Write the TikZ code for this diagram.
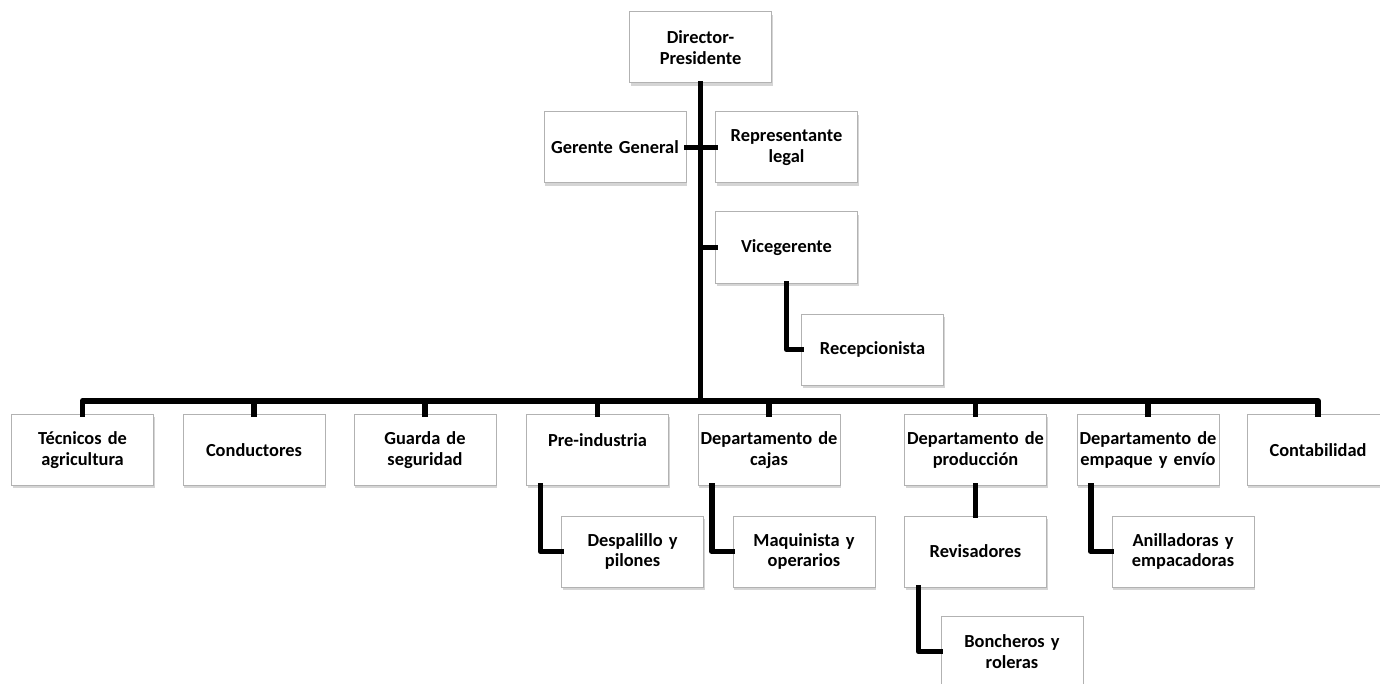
\documentclass[tikz,border=0pt]{standalone}
\usepackage{fontspec}
\setmainfont{Carlito}
\usepackage{tikz}
\usetikzlibrary{shadows}
\tikzset{
    cargo/.style={draw=gray!60, line width=0.5pt, fill=white, minimum width=71pt, minimum height=35.5pt,
        text width=70pt, inner sep=0pt, align=center, font=\fontsize{9.2}{10.3}\selectfont\bfseries,
        drop shadow={shadow xshift=0.6pt, shadow yshift=-1.4pt, fill=gray!55, opacity=0.6}},
    conn/.style={line width=2.9pt, line join=round, line cap=rect}
}

\begin{document}
\begin{tikzpicture}[x=0.5pt, y=-0.5pt]
    \useasboundingbox [fill=white] (0, 0) rectangle (1380, 684);

    % direccion
    \node [cargo] (dir) at (700.5, 47.5) {Director-\\Presidente};
    \node [cargo] (gerente) at (615, 147.5) {Gerente General};
    \node [cargo] (repre) at (786.5, 147.5) {Representante\\legal};
    \node [cargo] (vice) at (786.5, 247.5) {Vicegerente};
    \node [cargo] (recep) at (872.5, 349.5) {Recepcionista};

    % departamentos
    \node [cargo] (tecnicos) at (82.5, 450) {Técnicos de\\agricultura};
    \node [cargo] (conduct) at (254, 450) {Conductores};
    \node [cargo] (guarda) at (425, 450) {Guarda de\\seguridad};
    \node [cargo] (preind) at (597.5, 450) {Pre-industria\\~};
    \node [cargo] (cajas) at (769, 450) {Departamento de\\cajas};
    \node [cargo] (prod) at (975.5, 450) {Departamento de\\producción};
    \node [cargo] (empaque) at (1148, 450) {Departamento de\\empaque y envío};
    \node [cargo] (conta) at (1318, 450) {Contabilidad};

    \node [cargo] (despal) at (632.5, 551.5) {Despalillo y\\pilones};
    \node [cargo] (maquin) at (804, 551.5) {Maquinista y\\operarios};
    \node [cargo] (revis) at (975.5, 551.5) {Revisadores};
    \node [cargo] (anill) at (1183, 551.5) {Anilladoras y\\empacadoras};
    \node [cargo] (bonch) at (1012, 651.5) {Boncheros y\\roleras};

    % lineas
    \coordinate (bus) at (82.5, 401);
    \draw [conn] (dir.south) -- (dir.south |- bus);
    \draw [conn] (gerente.east) -- (repre.west);
    \draw [conn] (vice.west) -- (vice.west -| dir.south);
    \draw [conn] (vice.south) |- (recep.west);
    \draw [conn] (tecnicos.north) -- (bus) -| (conta.north);
    \foreach \n in {conduct, guarda, preind, cajas, prod, empaque}
        \draw [conn] (\n.north) -- (\n.north |- bus);
    \draw [conn] ([xshift=-28.5pt]preind.south) |- (despal.west);
    \draw [conn] ([xshift=-28.5pt]cajas.south) |- (maquin.west);
    \draw [conn] ([xshift=-28.5pt]empaque.south) |- (anill.west);
    \draw [conn] (prod.south) -- (revis.north);
    \draw [conn] ([xshift=-28.5pt]revis.south) |- (bonch.west);
\end{tikzpicture}
\end{document}
